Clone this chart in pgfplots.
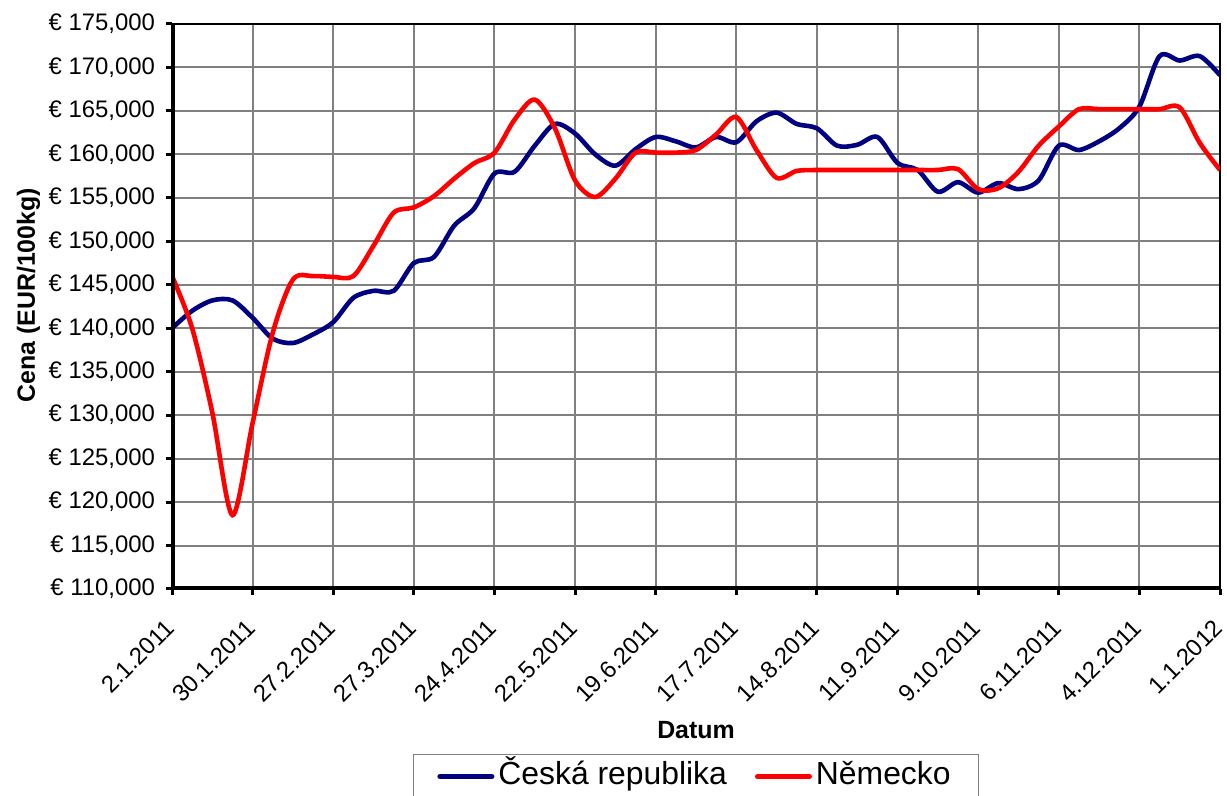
\documentclass[border=0pt]{standalone}
\usepackage{fontspec}
\setmainfont{Liberation Sans}
\usepackage{pgfplots}
\usepackage{pgfplotstable}
\pgfplotsset{compat=1.18}

\definecolor{czblue}{RGB}{0,0,128}
\definecolor{gridgray}{RGB}{128,128,128}

% weekly prices, week 0 = 2.1.2011
\pgfplotstableread{
w cz de
0 140.0 146.0
1 142.0 140.0
2 143.2 130.3
3 143.2 118.5
4 141.2 129.1
5 138.8 139.5
6 138.3 145.6
7 139.3 146.0
8 140.7 145.9
9 143.5 146.0
10 144.3 149.5
11 144.3 153.3
12 147.5 153.9
13 148.2 155.2
14 151.8 157.2
15 153.8 159.0
16 157.8 160.2
17 158.0 164.0
18 161.0 166.3
19 163.5 163.0
20 162.4 157.0
21 160.0 155.1
22 158.7 157.2
23 160.6 160.2
24 162.0 160.2
25 161.5 160.2
26 160.8 160.5
27 162.0 162.3
28 161.4 164.3
29 163.8 160.5
30 164.8 157.3
31 163.5 158.1
32 163.0 158.2
33 161.0 158.2
34 161.1 158.2
35 162.0 158.2
36 159.0 158.2
37 158.2 158.2
38 155.7 158.2
39 156.8 158.3
40 155.6 156.0
41 156.7 156.1
42 156.0 158.0
43 157.0 161.0
44 161.0 163.2
45 160.5 165.2
46 161.5 165.2
47 163.0 165.2
48 165.5 165.2
49 171.3 165.2
50 170.8 165.4
51 171.3 161.3
52 169.1 158.2
}\prices

\begin{document}
\begin{tikzpicture}
\begin{axis}[
    scale only axis,
    width=524bp, height=282.5bp,
    xmin=0, xmax=52, ymin=110, ymax=175,
    axis line style={black, line width=0.8bp},
    xtick={0,4,...,52},
    xticklabels={2.1.2011,30.1.2011,27.2.2011,27.3.2011,24.4.2011,22.5.2011,19.6.2011,17.7.2011,14.8.2011,11.9.2011,9.10.2011,6.11.2011,4.12.2011,1.1.2012},
    ytick={110,115,...,175},
    yticklabels={{€ 110,000},{€ 115,000},{€ 120,000},{€ 125,000},{€ 130,000},{€ 135,000},{€ 140,000},{€ 145,000},{€ 150,000},{€ 155,000},{€ 160,000},{€ 165,000},{€ 170,000},{€ 175,000}},
    grid=major,
    major grid style={gridgray, line width=1bp},
    tick align=outside,
    major tick length=3bp,
    tick style={black, line width=1.5bp},
    xtick pos=bottom, ytick pos=left,
    ticklabel style={font=\fontsize{12}{14}\selectfont},
    xticklabel shift=5bp,
    xticklabel style={xshift=1.5bp, yshift=-7bp, rotate=45, anchor=east},
    yticklabel style={xshift=-2bp},
    xlabel={Datum},
    ylabel={Cena (EUR/100kg)},
    label style={font=\bfseries\fontsize{12.5}{15}\selectfont},
    xlabel style={at={(axis description cs:0.5,-0.25)}, anchor=center},
    ylabel style={at={(axis description cs:-0.137,0.52)}, anchor=center},
    legend columns=2,
    legend style={at={(0.5,-0.292)}, anchor=north, draw=gridgray, line width=0.6bp,
        font=\fontsize{16}{19}\selectfont, inner xsep=12bp, inner ysep=1bp,
        nodes={text height=12bp, text depth=4bp},
        /tikz/every even column/.append style={column sep=12bp}},
    legend image code/.code={\draw[#1, line width=2.5bp, line cap=round] (0bp,0bp) -- (26bp,0bp);},
]
\addplot[czblue, line width=2.3bp, smooth, tension=0.5] table[x=w, y=cz] {\prices};
\addlegendentry{Česká republika}
\addplot[red, line width=2.3bp, smooth, tension=0.5] table[x=w, y=de] {\prices};
\addlegendentry{Německo}
% thick left and bottom axis lines
\draw[black, line width=3.2bp] (rel axis cs:0,1) -- (rel axis cs:0,0) -- (rel axis cs:1,0);
\coordinate (bl) at (rel axis cs:0,0);
\coordinate (tr) at (rel axis cs:1,1);
\end{axis}
% frame the page like the reference (legend box runs past the lower edge)
\pgfresetboundingbox
\path ([xshift=-86bp, yshift=-103.5bp]bl) rectangle ([xshift=3.5bp, yshift=12bp]tr);
\end{tikzpicture}
\end{document}
